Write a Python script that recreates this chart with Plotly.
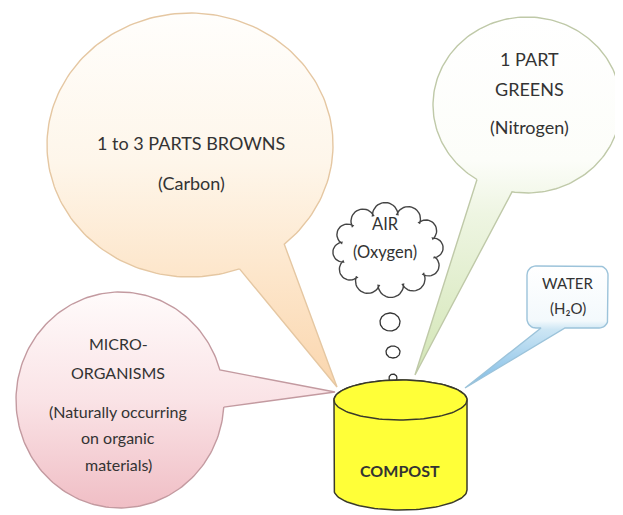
import numpy as np
import plotly.graph_objects as go

# ---- text content ----
browns_lines = ["1 to 3 PARTS BROWNS", "(Carbon)"]
greens_lines = ["1 PART", "GREENS", "(Nitrogen)"]
air_lines = ["AIR", "(Oxygen)"]
micro_lines = ["MICRO-", "ORGANISMS", "(Naturally occurring", "on organic", "materials)"]
water_lines = ["WATER", "(H₂O)"]
center_label = ["COMPOST"]

# ---- geometry (pixel space, y downward) ----
W, H = 623, 515
OFF = 8  # default page margin
browns_geo = dict(c=(190, 145), r=(143, 132), j1=(285, 245), j2=(240, 270), tip=(337, 387))
micro_geo = dict(c=(120, 400), r=(104, 108), j1=(223, 369), j2=(222, 407), tip=(335, 392))
greens_geo = dict(c=(527, 105), r=(94, 88), j1=(512, 192), j2=(478, 178), tip=(415, 375))
water_geo = dict(box=(527, 266, 608, 328), rad=9, tailx=(565, 541), tip=(465, 388))
cloud_geo = dict(c=(388, 250), r=(47, 36), n=12)
dots_geo = [(390, 322, 10, 9), (393, 352, 7, 6), (393, 378, 4, 4)]
cyl_geo = dict(x0=334, x1=467, ytop=400, ybot=490, ry=20)

FONT = "Lato, 'Open Sans', sans-serif"
TXT = "#333333"


def ang(c, r, p):
    return np.degrees(np.arctan2((p[1] - c[1]) / r[1], (p[0] - c[0]) / r[0]))


def bubble(g):
    c, r = g["c"], g["r"]
    a1, a2 = ang(c, r, g["j1"]), ang(c, r, g["j2"])
    end = a1
    while end <= a2:
        end += 360
    t = np.radians(np.linspace(a2, end, 200))
    xs = list(c[0] + r[0] * np.cos(t)) + [g["tip"][0], c[0] + r[0] * np.cos(t[0])]
    ys = list(c[1] + r[1] * np.sin(t)) + [g["tip"][1], c[1] + r[1] * np.sin(t[0])]
    return xs, ys


def ellipse(cx, cy, rx, ry, n=80):
    t = np.linspace(0, 2 * np.pi, n)
    return list(cx + rx * np.cos(t)), list(cy + ry * np.sin(t))


def cloud(g):
    (cx, cy), (rx, ry), n = g["c"], g["r"], g["n"]
    t = np.linspace(0, 2 * np.pi, n + 1) + 0.2
    px, py = cx + rx * np.cos(t), cy + ry * np.sin(t)
    xs, ys = [], []
    for i in range(n):
        p0 = np.array([px[i], py[i]]); p1 = np.array([px[i + 1], py[i + 1]])
        m = (p0 + p1) / 2; d = p1 - p0; L = np.linalg.norm(d); u = d / L
        nrm = np.array([u[1], -u[0]])
        if np.dot(nrm, m - np.array([cx, cy])) < 0:
            nrm = -nrm
        rr = L / 2 * 1.05
        for k in np.linspace(np.pi, 0, 20):
            q = m + rr * (np.cos(k) * u + np.sin(k) * nrm)
            xs.append(q[0]); ys.append(q[1])
    xs.append(xs[0]); ys.append(ys[0])
    return xs, ys


def rounded_box_with_tail(g):
    x0, y0, x1, y1 = g["box"]; r = g["rad"]
    xs, ys = [], []
    def arc(cx, cy, a0, a1):
        for a in np.radians(np.linspace(a0, a1, 10)):
            xs.append(cx + r * np.cos(a)); ys.append(cy + r * np.sin(a))
    arc(x0 + r, y0 + r, 180, 270)
    arc(x1 - r, y0 + r, 270, 360)
    arc(x1 - r, y1 - r, 0, 90)
    xs.append(g["tailx"][0]); ys.append(y1)
    xs.append(g["tip"][0]); ys.append(g["tip"][1])
    xs.append(g["tailx"][1]); ys.append(y1)
    arc(x0 + r, y1 - r, 90, 180)
    xs.append(xs[0]); ys.append(ys[0])
    return xs, ys


fig = go.Figure()


def add_shape(xy, line, width, grad=None, fill="white"):
    xs, ys = xy
    kw = dict(x=xs, y=ys, mode="lines", fill="toself",
              line=dict(color=line, width=width), hoverinfo="skip", showlegend=False)
    if grad is not None:
        # grad given top -> bottom on screen; axis is reversed so flip it
        cs = [[round(1 - p, 4), c] for p, c in reversed(grad)]
        kw["fillgradient"] = dict(type="vertical", colorscale=cs)
    else:
        kw["fillcolor"] = fill
    fig.add_trace(go.Scatter(**kw))


add_shape(bubble(browns_geo), "#E5C7A2", 1.4,
          [[0, "#FFFEFC"], [0.4, "#FEF6EA"], [0.7, "#FDE6CB"], [1, "#FAD6AE"]])
add_shape(bubble(greens_geo), "#BFC9A8", 1.4,
          [[0, "#FFFFFF"], [0.4, "#FCFDF9"], [0.55, "#EEF5E2"], [1, "#D3E6B6"]])
add_shape(bubble(micro_geo), "#C39AA0", 1.4,
          [[0, "#FFFBFB"], [0.5, "#FAE3E6"], [1, "#F0BEC5"]])
add_shape(rounded_box_with_tail(water_geo), "#9CC3DA", 1.4,
          [[0, "#FFFFFF"], [0.45, "#F3F9FC"], [0.52, "#CDE6F4"], [1, "#7DBBE6"]])
add_shape(cloud(cloud_geo), "#444444", 1.4, fill="white")
for (cx, cy, rx, ry) in dots_geo:
    add_shape(ellipse(cx, cy, rx, ry), "#333333", 1.3, fill="white")

g = cyl_geo
cx = (g["x0"] + g["x1"]) / 2; rx = (g["x1"] - g["x0"]) / 2
tb = np.radians(np.linspace(180, 0, 60)); tt = np.radians(np.linspace(0, -180, 60))
bx = [g["x0"]] + list(cx + rx * np.cos(tb)) + [g["x1"]] + list(cx + rx * np.cos(tt))
by = [g["ytop"]] + list(g["ybot"] + g["ry"] * np.sin(tb)) + [g["ytop"]] + list(g["ytop"] + g["ry"] * np.sin(tt))
add_shape((bx, by), "#3A3A2A", 1.5, fill="#FFFF38")
add_shape(ellipse(cx, g["ytop"], rx, g["ry"], 120), "#3A3A2A", 1.5, fill="#FFFF38")


def label(x, y, text, size, bold=False):
    fig.add_annotation(x=x, y=y, text=f"<b>{text}</b>" if bold else text, showarrow=False,
                       xanchor="center", yanchor="middle",
                       font=dict(family=FONT, size=size, color=TXT))


for t, y in zip(browns_lines, [143, 183]):
    label(191, y, t, 18)
for t, y in zip(greens_lines, [59, 89, 127]):
    label(529, y, t, 18)
for t, y in zip(air_lines, [224, 252]):
    label(385, y, t, 16.5)
for t, y in zip(micro_lines, [343, 372, 411, 437, 464]):
    label(118, y, t, 16)
for t, y in zip(water_lines, [283, 308]):
    label(568, y, t, 15)
label(400, 470, center_label[0], 16, bold=True)

fig.update_layout(
    width=W - OFF, height=H - OFF, margin=dict(l=0, r=0, t=0, b=0),
    paper_bgcolor="white", plot_bgcolor="white",
    xaxis=dict(range=[OFF, W], visible=False, fixedrange=True),
    yaxis=dict(range=[H, OFF], visible=False, fixedrange=True),
    hovermode=False, showlegend=False,
)
fig.write_html("out.html")
